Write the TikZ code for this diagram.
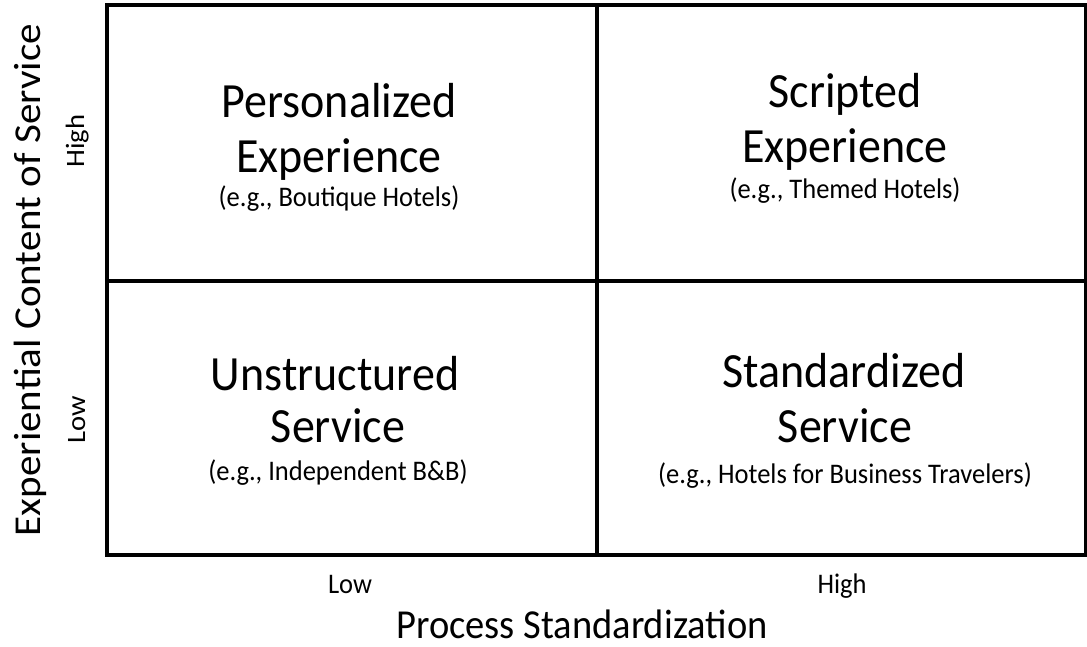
\documentclass[tikz,border=0pt]{standalone}
\usepackage{fontspec}
\setmainfont{Carlito}
% letters a little taller than wide, as on the slide
\newcommand{\tall}[1]{\scalebox{1}[1.07]{#1}}
\newcommand{\stretchx}[1]{\scalebox{1.08}[1]{#1}}

\begin{document}
\begin{tikzpicture}[x=1pt,y=-1pt,
	quadtitle/.style={anchor=base,font=\fontsize{46}{55}\selectfont},
	quadnote/.style={anchor=base,font=\fontsize{26.5}{32}\selectfont},
	axistitle/.style={anchor=base,font=\fontsize{38.5}{46}\selectfont},
	axislevel/.style={anchor=base,font=\fontsize{26.5}{32}\selectfont}]
	\useasboundingbox (0,0) rectangle (1087,646);
	% the 2x2 grid
	\draw[line width=3.2pt] (107,5) rectangle (1086,555);
	\draw[line width=3.2pt] (597,5) -- (597,555);
	\draw[line width=3.2pt] (107,281) -- (1086,281);
	% upper left
	\node[quadtitle] (pers) at (339,117) {\tall{Personalized}};
	\node[quadtitle] (persexp) at (339,172) {\tall{Experience}};
	\node[quadnote] (persnote) at (339,206) {\tall{(e.g., Boutique Hotels)}};
	% upper right
	\node[quadtitle] (scri) at (845,107) {\tall{Scripted}};
	\node[quadtitle] (scriexp) at (845,162) {\tall{Experience}};
	\node[quadnote] (scrinote) at (845,198) {\tall{(e.g., Themed Hotels)}};
	% lower left
	\node[quadtitle] (unst) at (335,390) {\tall{Unstructured}};
	\node[quadtitle] (unstserv) at (338,442) {\tall{Service}};
	\node[quadnote] (unstnote) at (338,480) {\tall{(e.g., Independent B\&B)}};
	% lower right
	\node[quadtitle] (stan) at (844,387) {\tall{Standardized}};
	\node[quadtitle] (stanserv) at (845,442) {\tall{Service}};
	\node[quadnote] (stannote) at (845,483) {\tall{(e.g., Hotels for Business Travelers)}};
	% horizontal axis
	\node[axislevel] (xlow) at (350,593) {\tall{Low}};
	\node[axislevel] (xhigh) at (842,593) {\tall{High}};
	\node[axistitle] (xtitle) at (582,638) {\tall{Process Standardization}};
	% vertical axis
	\node[axislevel,rotate=90] (ylow) at (85,420) {\stretchx{Low}};
	\node[axislevel,rotate=90] (yhigh) at (84,141) {\stretchx{High}};
	\node[axistitle,rotate=90,font=\fontsize{38}{46}\selectfont] (ytitle) at (40,280) {\stretchx{Experiential Content of Service}};
\end{tikzpicture}
\end{document}
